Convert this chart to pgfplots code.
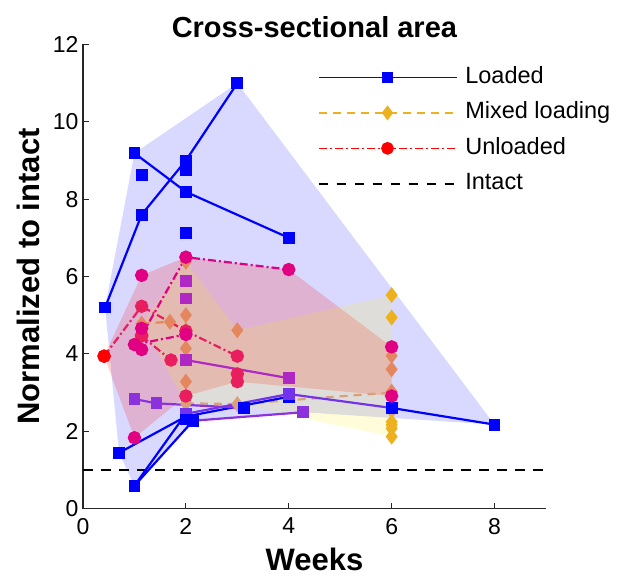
\documentclass[border=0pt]{standalone}
\usepackage{pgfplots}
\pgfplotsset{compat=1.18}
\usepackage{fontspec}
\setmainfont{Liberation Sans}
\definecolor{axgray}{RGB}{38,38,38}
\definecolor{lblue}{RGB}{0,0,255}
\definecolor{lpurA}{RGB}{115,50,235}
\definecolor{lpurB}{RGB}{140,50,220}
\definecolor{lmag}{RGB}{175,40,195}
\definecolor{mgold}{RGB}{237,177,32}
\definecolor{msal}{RGB}{228,135,95}
\definecolor{mtan}{RGB}{218,160,120}
\definecolor{ured}{RGB}{255,0,0}
\definecolor{umag}{RGB}{225,0,130}
\definecolor{upink}{RGB}{232,30,95}

\pgfplotsset{
  ld/.style={line width=2.2pt, mark=square*, mark size=4.8pt, mark options={solid}},
  mx/.style={line width=2.2pt, dash pattern=on 8pt off 6pt, mark=diamond*, mark size=6.2pt, mark options={solid}},
  ul/.style={line width=2.2pt, dash pattern=on 8pt off 3pt on 2pt off 3pt, mark=*, mark size=5.6pt, mark options={solid}},
}

\begin{document}
\begin{tikzpicture}
\begin{axis}[
  scale only axis, width=463pt, height=464pt,
  xmin=0, xmax=9, ymin=0, ymax=12,
  xtick={0,2,4,6,8}, ytick={0,2,4,6,8,10,12},
  axis lines=left, axis line style={-, line width=1.3pt, color=axgray},
  tick style={line width=1.2pt, color=axgray}, tick align=inside, major tick length=6pt,
  ticklabel style={font=\fontsize{23}{27}\selectfont, color=black},
  xticklabel style={yshift=-6pt},
  yticklabel style={xshift=-1pt},
  /pgf/number format/assume math mode=true,
  title={\textbf{Cross-sectional area}},
  title style={font=\fontsize{29}{34}\selectfont, yshift=-3pt},
  xlabel={\textbf{Weeks}}, ylabel={\textbf{Normalized to intact}},
  label style={font=\fontsize{31}{36}\selectfont},
  xlabel style={yshift=-7pt},
  ylabel style={yshift=6pt},
  legend cell align=left,
  legend style={at={(rel axis cs:0.50,0.962)}, anchor=north west, draw=none, fill=none,
    font=\fontsize{23.5}{27}\selectfont, row sep=9.5pt, column sep=6pt,
    nodes={inner sep=2pt, text height=17pt, text depth=5pt}},
  legend image code/.code={\draw[mark repeat=2,mark phase=2] plot coordinates {(0pt,0pt) (69pt,0pt) (138pt,0pt)};},
  clip=false,
]
% shaded regions
\addplot[fill=lblue, fill opacity=0.15, draw=none, forget plot] coordinates {
  (0.43,5.2) (1,9.19) (3,11) (8,2.17) (4.28,2.49) (2.14,2.27) (1,0.59) (0.7,1.44)} -- cycle;
\addplot[fill=ured, fill opacity=0.18, draw=none, forget plot] coordinates {
  (0.41,3.94) (1.14,6.03) (2,6.5) (4,6.18) (6,4.18) (6,2.91) (3,3.28) (2,2.91) (1,1.83)} -- cycle;
\addplot[fill=yellow, fill opacity=0.15, draw=none, forget plot] coordinates {
  (1.14,4.78) (2,6.38) (3,4.61) (6,5.52) (6,1.86) (3,2.7) (2,2.72)} -- cycle;

% intact
\addplot[black, line width=1.8pt, dash pattern=on 9.5pt off 8.5pt, forget plot] coordinates {(0,1) (9,1)};

% mixed loading
\addplot[mx, msal, forget plot] coordinates {(1.14,4.78) (1.69,4.83) (2,4.61)};
\addplot[mx, mtan, forget plot] coordinates {(2,2.72) (3,2.7) (6,3.0)};
\addplot[mx, only marks, msal, forget plot] coordinates {(2,6.38) (2,5.0) (2,4.14) (2,3.28) (3,4.61) (6,3.95) (6,3.6) (6,3.02)};
\addplot[mx, only marks, mtan, forget plot] coordinates {(6,2.53)};
\addplot[mx, only marks, mgold, forget plot] coordinates {(6,5.52) (6,4.94) (6,2.24) (6,2.16) (6,2.07) (6,1.86)};

% loaded
\addplot[ld, lblue, forget plot] coordinates {(0.43,5.2) (1.14,7.6) (2,9.0) (3,11.0)};
\addplot[ld, lblue, forget plot] coordinates {(1,9.19) (2,8.19) (4,7.0)};
\addplot[ld, lblue, forget plot] coordinates {(0.7,1.44) (2,2.38) (4,2.89)};
\addplot[ld, lblue, forget plot] coordinates {(1,0.59) (2,2.45)};
\addplot[ld, lpurA, forget plot] coordinates {(2,2.45) (4,2.96) (6,2.6)};
\addplot[ld, lblue, forget plot] coordinates {(6,2.6) (8,2.17)};
\addplot[ld, lblue, forget plot] coordinates {(1,0.59) (2.14,2.27)};
\addplot[ld, lpurB, forget plot] coordinates {(2.14,2.27) (4.28,2.49)};
\addplot[ld, lmag, forget plot] coordinates {(2,3.84) (4,3.37)};
\addplot[ld, lpurB, forget plot] coordinates {(1,2.83) (1.43,2.72) (3.13,2.6)};
\addplot[ld, only marks, lblue, forget plot] coordinates {(1.14,8.62) (2,8.75) (2,7.13) (3.13,2.6) (2,2.3) (2.14,2.27)};
\addplot[ld, only marks, lmag, forget plot] coordinates {(2,5.88) (2,5.43)};

% unloaded
\addplot[ul, upink, forget plot] coordinates {(0.41,3.94) (1.14,5.23) (2,4.59) (3,3.94)};
\addplot[ul, only marks, ured, forget plot] coordinates {(0.41,3.94)};
\addplot[ul, umag, forget plot] coordinates {(1.14,4.48) (2,6.5) (4,6.18)};
\addplot[ul, upink, forget plot] coordinates {(1.14,4.46) (1.71,3.84)};
\addplot[ul, umag, forget plot] coordinates {(1.0,4.24) (2,4.5)};
\addplot[ul, only marks, umag, forget plot] coordinates {(1.14,6.03) (1.14,4.66) (1.14,4.11) (1,1.83) (6,4.18) (6,2.91)};
\addplot[ul, only marks, upink, forget plot] coordinates {(2,2.91) (3,3.48) (3,3.28)};

% legend
\addlegendimage{ld, lblue, line width=1.6pt}
\addlegendentry{Loaded}
\addlegendimage{mx, mgold, line width=1.6pt}
\addlegendentry{Mixed loading}
\addlegendimage{ul, ured, line width=1.6pt}
\addlegendentry{Unloaded}
\addlegendimage{black, line width=1.6pt, dash pattern=on 9.5pt off 8.5pt}
\addlegendentry{Intact}
\end{axis}
\path (current axis.south west) ++(-83pt,-69.5pt) coordinate (bbA);
\path (current axis.north east) ++(75pt,44.5pt) coordinate (bbB);
\path (bbA) rectangle (bbB);
\end{tikzpicture}
\end{document}
